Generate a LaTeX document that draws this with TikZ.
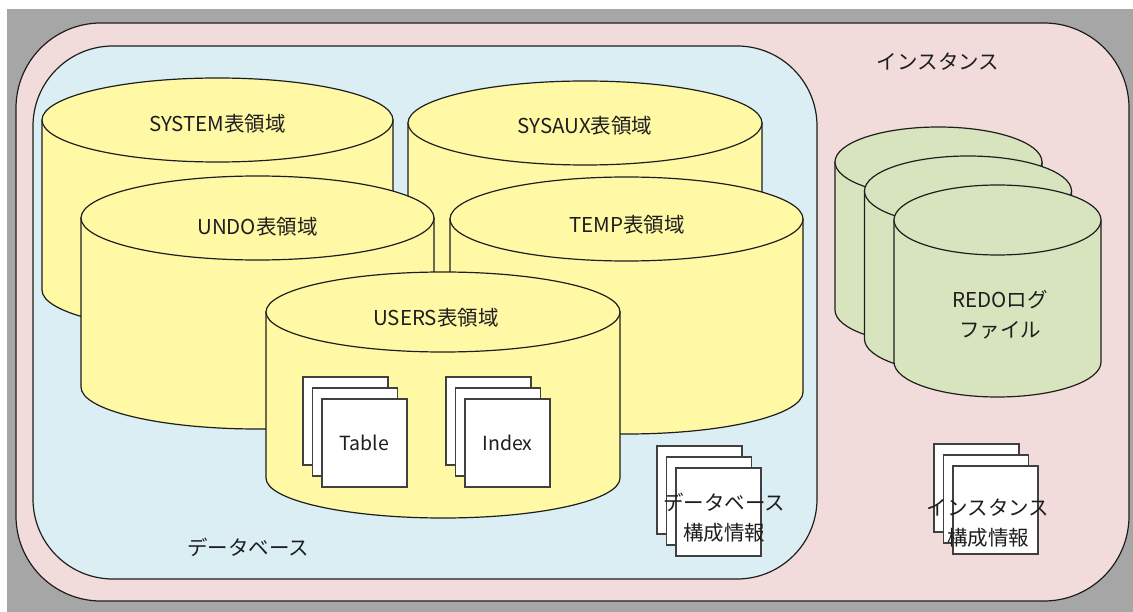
\documentclass[tikz,border=0pt]{standalone}
\usepackage{fontspec}
\newfontfamily\jp{Noto Sans CJK JP}
\definecolor{bggray}{HTML}{A6A6A6}
\definecolor{instpink}{HTML}{F2DCDB}
\definecolor{dbblue}{HTML}{DAEEF3}
\definecolor{tsyellow}{HTML}{FFF8A5}
\definecolor{redogreen}{HTML}{D7E4BD}
\definecolor{ink}{HTML}{1E1E1E}

% cylinder: centre x, top-centre y, bottom-centre y, x radius, y radius, fill
\newcommand{\dbcyl}[6]{%
  \filldraw[outline, fill=#6] ({#1-#4},{-#2}) -- ({#1-#4},{-#3})
    arc[start angle=180, end angle=360, x radius=#4, y radius=#5]
    -- ({#1+#4},{-#2}) -- cycle;
  \filldraw[outline, fill=#6] (#1,-#2) ellipse[x radius=#4, y radius=#5];
}
% three stacked sheets: top-left x, y of the rear sheet, name of the front centre
\newcommand{\sheetstack}[3]{%
  \foreach \k in {0,1,2}
    \filldraw[sheet] ({#1+9.5*\k},{-#2-11*\k}) rectangle ++(85,-88);
  \coordinate (#3) at ({#1+19+42.5},{-#2-22-44});
}

\begin{document}
\begin{tikzpicture}[x=1pt, y=1pt,
  outline/.style={draw=ink, line width=1.2pt},
  sheet/.style={draw=ink!85, line width=1.2pt, fill=white},
  lbl/.style={font=\jp\fontsize{20.5}{30}\selectfont, text=ink, inner sep=0pt, align=center},
  seg/.style={font=\jp\fontsize{19.5}{29}\selectfont, text=ink, inner sep=0pt}]
  \useasboundingbox (0,0) rectangle (1133,-612);
  \fill[white] (0,0) rectangle (1133,-612);
  \fill[bggray] (7,-9) rectangle (1133,-612);

  % instance and database frames
  \filldraw[outline, fill=instpink, rounded corners=85pt] (16,-23) rectangle (1129,-601);
  \filldraw[outline, fill=dbblue, rounded corners=80pt] (33,-46) rectangle (817,-579);

  % tablespaces
  \dbcyl{217.5}{120}{290}{175.5}{42}{tsyellow}
  \dbcyl{585}{123}{292}{177}{42}{tsyellow}
  \dbcyl{257.5}{218}{387}{176.5}{42}{tsyellow}
  \dbcyl{626.5}{219}{392}{176.5}{42}{tsyellow}
  \dbcyl{443}{312}{478}{177}{40}{tsyellow}

  \node[lbl] (system) at (217.5,-124) {SYSTEM表領域};
  \node[lbl] (sysaux) at (585,-126) {SYSAUX表領域};
  \node[lbl] (undo)   at (257.5,-227) {UNDO表領域};
  \node[lbl] (temp)   at (627,-225) {TEMP表領域};
  \node[lbl] (users)  at (436,-318) {USERS表領域};

  % segments inside USERS
  \sheetstack{303}{377}{tablec}
  \sheetstack{446}{377}{indexc}
  \node[seg] (table) at (tablec) {Table};
  \node[seg] (index) at (indexc) {Index};

  % redo log files
  \dbcyl{938.5}{162}{310}{103.5}{35}{redogreen}
  \dbcyl{968}{191}{339}{103.5}{35}{redogreen}
  \dbcyl{997.5}{220}{362}{103.5}{35}{redogreen}
  \node[lbl] (redo) at (1000,-315) {REDOログ\\ファイル};

  % configuration files
  \sheetstack{657}{446}{dbconf}
  \sheetstack{934}{444}{instconf}
  \node[lbl] (dbconftext) at (724,-518) {データベース\\構成情報};
  \node[lbl] (instconftext) at (988,-523) {インスタンス\\構成情報};

  % frame captions
  \node[lbl] (dbcap)   at (248,-547) {データベース};
  \node[lbl] (instcap) at (938,-62) {インスタンス};
\end{tikzpicture}
\end{document}
